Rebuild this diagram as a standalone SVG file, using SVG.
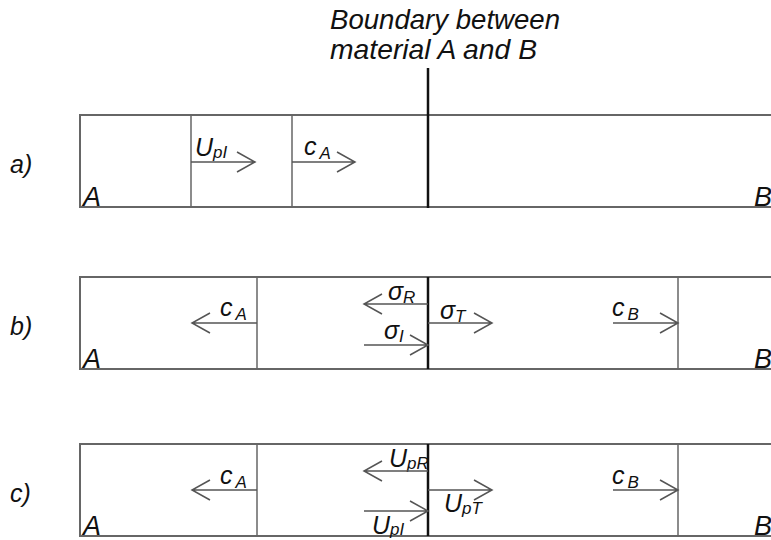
<svg xmlns="http://www.w3.org/2000/svg" width="771" height="540" viewBox="0 0 771 540">
<style>
text{font-family:"Liberation Sans",Arial,sans-serif;font-style:italic;fill:#111}
.t{font-size:28px}
.lbl{font-size:25px}
.big{font-size:27px}
.m{font-size:25px}
.s{font-size:17px}
.box{fill:none;stroke:#666;stroke-width:2}
.div{stroke:#666;stroke-width:1.5;fill:none}
.bnd{stroke:#111;stroke-width:2.5;fill:none}
.arr{stroke:#555;stroke-width:1.5;fill:none}
</style>
<rect width="771" height="540" fill="#fff"/>
<g id="title">
<text class="t" x="330" y="29" textLength="230" lengthAdjust="spacingAndGlyphs">Boundary between</text>
<text class="t" x="330" y="59" textLength="207" lengthAdjust="spacingAndGlyphs">material A and B</text>
</g>
<g id="panel-a">
<rect class="box" x="80" y="115" width="700" height="92"/>
<line class="div" x1="191" y1="115" x2="191" y2="207"/>
<line class="div" x1="292" y1="115" x2="292" y2="207"/>
<text class="lbl" x="10" y="173">a)</text>
<text class="big" x="83" y="206">A</text>
<text class="big" x="754" y="206">B</text>
<text class="m" x="195" y="156">U<tspan class="s" dy="2">pI</tspan></text>
<text class="m" x="304" y="155">c<tspan class="s" dy="4" dx="3">A</tspan></text>
</g>
<g id="panel-b">
<rect class="box" x="80" y="277" width="700" height="92"/>
<line class="div" x1="257" y1="277" x2="257" y2="369"/>
<line class="div" x1="678" y1="277" x2="678" y2="369"/>
<line class="bnd" x1="428" y1="277" x2="428" y2="369"/>
<text class="lbl" x="10" y="335">b)</text>
<text class="big" x="83" y="368">A</text>
<text class="big" x="754" y="368">B</text>
<text class="m" x="220" y="316">c<tspan class="s" dy="4" dx="3">A</tspan></text>
<text class="m" x="388" y="300">σ<tspan class="s" dy="3">R</tspan></text>
<text class="m" x="384" y="339">σ<tspan class="s" dy="3">I</tspan></text>
<text class="m" x="440" y="319">σ<tspan class="s" dy="3">T</tspan></text>
<text class="m" x="612" y="316">c<tspan class="s" dy="4" dx="3">B</tspan></text>
</g>
<g id="panel-c">
<rect class="box" x="80" y="444" width="700" height="92"/>
<line class="div" x1="257" y1="444" x2="257" y2="536"/>
<line class="div" x1="678" y1="444" x2="678" y2="536"/>
<line class="bnd" x1="428" y1="444" x2="428" y2="536"/>
<text class="lbl" x="10" y="502">c)</text>
<text class="big" x="83" y="535">A</text>
<text class="big" x="754" y="535">B</text>
<text class="m" x="220" y="484">c<tspan class="s" dy="4" dx="3">A</tspan></text>
<text class="m" x="389" y="467">U<tspan class="s" dy="2">pR</tspan></text>
<text class="m" x="372" y="534">U<tspan class="s" dy="1">pI</tspan></text>
<text class="m" x="444" y="512">U<tspan class="s" dy="2">pT</tspan></text>
<text class="m" x="612" y="484">c<tspan class="s" dy="4" dx="3">B</tspan></text>
</g>
<g id="connectors">
<line class="bnd" x1="428" y1="68" x2="428" y2="208"/>
<path class="arr" d="M191,162H255M237,152L255,162L237,172"/>
<path class="arr" d="M292,162H355M337,152L355,162L337,172"/>
<path class="arr" d="M257,323H192M210,313L192,323L210,333"/>
<path class="arr" d="M428,304H364M382,294L364,304L382,314"/>
<path class="arr" d="M364,345H428M410,335L428,345L410,355"/>
<path class="arr" d="M428,323H492M474,313L492,323L474,333"/>
<path class="arr" d="M613,323H678M660,313L678,323L660,333"/>
<path class="arr" d="M257,490H192M210,480L192,490L210,500"/>
<path class="arr" d="M428,471H364M382,461L364,471L382,481"/>
<path class="arr" d="M364,511H428M410,501L428,511L410,521"/>
<path class="arr" d="M428,490H492M474,480L492,490L474,500"/>
<path class="arr" d="M613,490H678M660,480L678,490L660,500"/>
</g>
</svg>
